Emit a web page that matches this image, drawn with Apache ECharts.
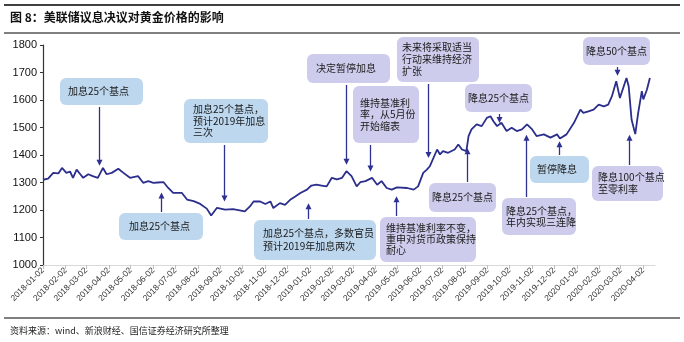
<!DOCTYPE html>
<html><head><meta charset="utf-8">
<script src="https://cdn.jsdelivr.net/npm/echarts@6/dist/echarts.min.js"></script>
<style>html,body{margin:0;padding:0;background:#fff}#c{width:684px;height:342px}</style>
</head><body><div id="c"></div><script>
const dates = ['2018-01-02','2018-01-09','2018-01-16','2018-01-23','2018-01-28','2018-02-03','2018-02-08','2018-02-12','2018-02-17','2018-02-22','2018-02-26','2018-03-05','2018-03-11','2018-03-18','2018-03-25','2018-03-30','2018-04-06','2018-04-15','2018-04-22','2018-05-01','2018-05-12','2018-05-19','2018-05-26','2018-06-02','2018-06-08','2018-06-16','2018-06-22','2018-06-29','2018-07-11','2018-07-18','2018-07-27','2018-08-05','2018-08-14','2018-08-20','2018-08-28','2018-09-08','2018-09-19','2018-09-28','2018-10-05','2018-10-12','2018-10-17','2018-10-26','2018-11-02','2018-11-09','2018-11-13','2018-11-22','2018-11-29','2018-12-06','2018-12-13','2018-12-20','2018-12-29','2019-01-04','2019-01-11','2019-01-18','2019-01-25','2019-02-01','2019-02-08','2019-02-15','2019-02-21','2019-02-28','2019-03-07','2019-03-12','2019-03-19','2019-03-28','2019-04-04','2019-04-10','2019-04-17','2019-04-24','2019-05-01','2019-05-15','2019-05-24','2019-05-30','2019-06-06','2019-06-11','2019-06-15','2019-06-25','2019-06-29','2019-07-03','2019-07-10','2019-07-19','2019-07-24','2019-07-29','2019-08-04','2019-08-07','2019-08-11','2019-08-18','2019-08-25','2019-09-01','2019-09-06','2019-09-10','2019-09-15','2019-09-21','2019-09-28','2019-10-05','2019-10-12','2019-10-19','2019-10-26','2019-11-02','2019-11-08','2019-11-18','2019-11-27','2019-12-06','2019-12-10','2019-12-19','2019-12-29','2020-01-07','2020-01-11','2020-01-18','2020-01-25','2020-02-01','2020-02-08','2020-02-14','2020-02-19','2020-02-25','2020-03-01','2020-03-10','2020-03-13','2020-03-17','2020-03-22','2020-03-26','2020-03-31','2020-04-02','2020-04-07','2020-04-11'];
const prices = [1310,1314,1335,1333,1353,1335,1340,1317,1347,1330,1317,1330,1323,1317,1353,1330,1335,1350,1335,1317,1323,1299,1305,1299,1300,1301,1281,1262,1262,1238,1232,1222,1205,1180,1208,1201,1203,1199,1195,1213,1231,1231,1222,1231,1207,1225,1219,1237,1249,1262,1274,1289,1292,1289,1286,1317,1311,1317,1341,1323,1286,1301,1305,1317,1292,1305,1280,1274,1282,1280,1274,1286,1335,1347,1359,1420,1402,1414,1408,1420,1438,1420,1414,1469,1493,1511,1505,1535,1541,1523,1505,1517,1487,1499,1487,1493,1511,1493,1469,1475,1463,1475,1460,1475,1516,1565,1553,1559,1565,1583,1577,1583,1613,1668,1607,1680,1650,1528,1476,1553,1632,1602,1638,1680];
const tickLabels = ['2018-01-02','2018-02-02','2018-03-02','2018-04-02','2018-05-02','2018-06-02','2018-07-02','2018-08-02','2018-09-02','2018-10-02','2018-11-02','2018-12-02','2019-01-02','2019-02-02','2019-03-02','2019-04-02','2019-05-02','2019-06-02','2019-07-02','2019-08-02','2019-09-02','2019-10-02','2019-11-02','2019-12-02','2020-01-02','2020-02-02','2020-03-02','2020-04-02'];
const annTexts = ['加息25个基点','加息25个基点，\n预计2019年加息\n三次','加息25个基点','加息25个基点，多数官员\n预计2019年加息两次','决定暂停加息','维持基准利\n率，从5月份\n开始缩表','未来将采取适当\n行动来维持经济\n扩张','降息25个基点','降息25个基点','维持基准利率不变，\n重申对货币政策保持\n耐心','降息25个基点，\n年内实现三连降','暂停降息','降息50个基点','降息100个基点\n至零利率'];
const annDates = ['2018-03-20','2018-09-07','2018-06-13','2018-12-31','2019-02-21','2019-03-25','2019-06-13','2019-09-17','2019-08-05','2019-04-30','2019-10-24','2019-12-09','2020-02-26','2020-03-13'];
const annValues = [1361,1231,1264,1225,1365,1340,1389,1516,1425,1250,1474,1450,1688,1474];
const yMin = 1000, yMax = 1800, yStep = 100;
const xStart = '2018-01-02', xEnd = '2020-04-18';
const titleText = '图 8：美联储议息决议对黄金价格的影响';
const sourceText = '资料来源：wind、新浪财经、国信证券经济研究所整理';

// layout for annotation boxes: [x, y, w, h, padLeft, lineHeight, colorKey]
const boxLayout = [
  [60,78,83,27,8,12,'b'],[184,99,84,44,9,11.5,'b'],[119,213,84,27,10,12,'b'],[254,220,122,40,9,13,'b'],
  [307,54,83,29,9,12,'l'],[353,86,66,57,7,11.5,'l'],[397,37,82,45,5,12,'l'],[465,84,67,28,3,12,'l'],
  [429,183,67,29,3,12,'l'],[380,217,96,45,6,11,'l'],[502,198,74,37,4,11.5,'l'],[530,156,59,27,7,12,'b'],
  [583,37,67,28,3,12,'l'],[592,166,71,35,6,12,'l']
];
const boxColors = {b:'#BDD7EE', l:'#CDCCEC'};
const arrowColor = '#2E3192';
const lineColor = '#2B2E8C';

function ts(s){const p=s.split('-');return new Date(+p[0],+p[1]-1,+p[2]).getTime();}
function fmt(v){const d=new Date(v);const m=d.getMonth()+1;const dd=d.getDate();return d.getFullYear()+'-'+(m<10?'0':'')+m+'-'+(dd<10?'0':'')+dd;}

const chart = echarts.init(document.getElementById('c'));
const tickVals = tickLabels.map(ts);
chart.setOption({
  animation:false,
  grid:{left:43,right:29,top:45,bottom:77,containLabel:false},
  xAxis:{type:'value',min:ts(xStart),max:ts(xEnd),scale:true,
    axisLine:{lineStyle:{color:'#D9D9D9',width:1}},
    axisTick:{show:true,customValues:tickVals,length:4,lineStyle:{color:'#BFBFBF'}},
    axisLabel:{customValues:tickVals,rotate:45,fontSize:8.5,color:'#333',margin:4,fontFamily:'Liberation Sans',formatter:(v)=>fmt(v),hideOverlap:false,showMinLabel:true,showMaxLabel:true},
    splitLine:{show:false}},
  yAxis:{type:'value',min:yMin,max:yMax,interval:yStep,
    axisLine:{show:true,lineStyle:{color:'#333',width:1.2}},
    axisTick:{show:true,length:3,lineStyle:{color:'#333'}},
    axisLabel:{fontSize:11,color:'#111',fontFamily:'Liberation Sans',margin:6,formatter:(v)=>String(v)},
    splitLine:{show:false}},
  series:[{type:'line',data:dates.map((d,i)=>[ts(d),prices[i]]),showSymbol:false,symbol:'none',
    lineStyle:{color:lineColor,width:1.8},itemStyle:{color:lineColor}}]
});

const g = [];
g.push({type:'line',shape:{x1:4,y1:5,x2:680,y2:5},style:{stroke:'#000',lineWidth:1.5}});
g.push({type:'text',x:10,y:17.5,style:{text:titleText,font:'bold 12px "Noto Sans CJK SC"',fill:'#111',verticalAlign:'middle'}});
g.push({type:'line',shape:{x1:4,y1:33,x2:680,y2:33},style:{stroke:'#000',lineWidth:1}});
g.push({type:'line',shape:{x1:4,y1:318,x2:680,y2:318},style:{stroke:'#000',lineWidth:1}});
g.push({type:'text',x:10,y:331,style:{text:sourceText,font:'9px "Noto Sans CJK SC"',fill:'#222',verticalAlign:'middle'}});

annTexts.forEach((t,i)=>{
  const [bx,by,bw,bh,pad,lh,ck] = boxLayout[i];
  const tip = chart.convertToPixel({gridIndex:0},[ts(annDates[i]),annValues[i]]);
  const ax = Math.round(tip[0])+0.5, ay = tip[1];
  const below = ay > by + bh;
  const startY = below ? by + bh + 2 : by - 1;
  const headDir = below ? -1 : 1;
  g.push({type:'line',z:10,shape:{x1:ax,y1:startY,x2:ax,y2:ay+headDir*5},style:{stroke:arrowColor,lineWidth:1.3}});
  g.push({type:'polygon',z:10,shape:{points:[[ax,ay],[ax-3,ay+headDir*6],[ax+3,ay+headDir*6]]},style:{fill:arrowColor}});
  g.push({type:'rect',z:11,shape:{x:bx,y:by,width:bw,height:bh,r:6},style:{fill:boxColors[ck]}});
  g.push({type:'text',z:12,x:bx+pad,y:by+bh/2,style:{text:t,font:'10px "Noto Sans CJK SC"',fill:'#1a1a1a',lineHeight:lh,verticalAlign:'middle'}});
});
chart.setOption({graphic:g});
</script></body></html>
